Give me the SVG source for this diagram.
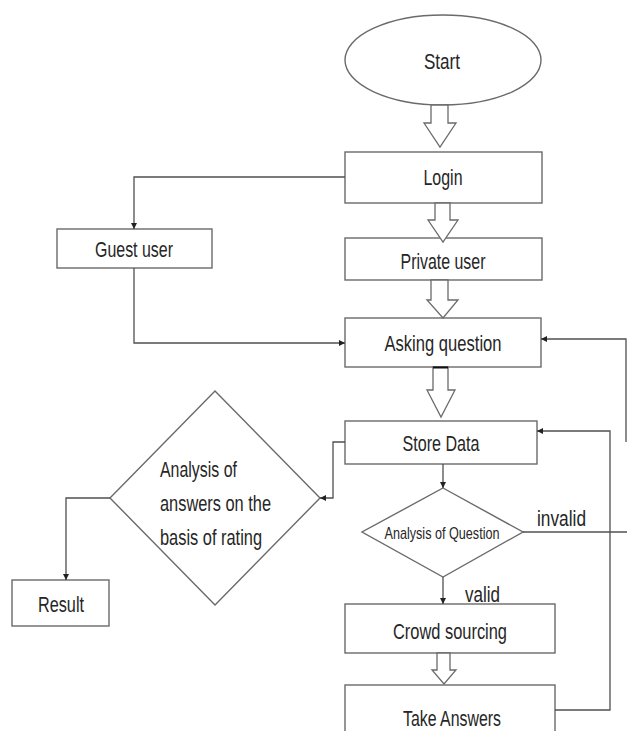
<svg xmlns="http://www.w3.org/2000/svg" width="627" height="731" viewBox="0 0 627 731">
<style>
  .shape { fill: #ffffff; stroke: #6a6a6a; stroke-width: 1.4; }
  .blk { fill: #ffffff; stroke: #6a6a6a; stroke-width: 1.3; stroke-linejoin: miter; }
  .conn { fill: none; stroke: #505050; stroke-width: 1.3; }
  .lbl { font-family: "Liberation Sans", Arial, sans-serif; font-size: 22px; fill: #262626; }
  .sm { font-size: 17px; }
</style>
<defs>
  <marker id="ah" viewBox="0 0 10 10" refX="10" refY="5" markerWidth="6" markerHeight="6" orient="auto" markerUnits="userSpaceOnUse">
    <path d="M0,0 L10,5 L0,10 z" fill="#222"/>
  </marker>
</defs>
<rect width="627" height="731" fill="#ffffff"/>

<g id="start">
  <ellipse class="shape" cx="443" cy="60" rx="98" ry="45"/>
  <text class="lbl" x="442" y="69" text-anchor="middle" textLength="36" lengthAdjust="spacingAndGlyphs">Start</text>
</g>
<g id="login">
  <rect class="shape" x="345" y="152" width="197" height="51"/>
  <text class="lbl" x="443" y="185" text-anchor="middle" textLength="39" lengthAdjust="spacingAndGlyphs">Login</text>
</g>
<g id="guest">
  <rect class="shape" x="57" y="229" width="155" height="39"/>
  <text class="lbl" x="134" y="257" text-anchor="middle" textLength="78" lengthAdjust="spacingAndGlyphs">Guest user</text>
</g>
<g id="private">
  <rect class="shape" x="345" y="238" width="197" height="42"/>
  <text class="lbl" x="443" y="269" text-anchor="middle" textLength="85" lengthAdjust="spacingAndGlyphs">Private user</text>
</g>
<g id="asking">
  <rect class="shape" x="345" y="318" width="196" height="49"/>
  <text class="lbl" x="443" y="351" text-anchor="middle" textLength="117" lengthAdjust="spacingAndGlyphs">Asking question</text>
</g>
<g id="store">
  <rect class="shape" x="345" y="421" width="192" height="43"/>
  <text class="lbl" x="441" y="451" text-anchor="middle" textLength="77" lengthAdjust="spacingAndGlyphs">Store Data</text>
</g>
<g id="analysis-answers">
  <polygon class="shape" points="215,391 320,498 215,605 110,498"/>
  <text class="lbl" x="160" y="477" textLength="77" lengthAdjust="spacingAndGlyphs">Analysis of</text>
  <text class="lbl" x="160" y="511" textLength="111" lengthAdjust="spacingAndGlyphs">answers on the</text>
  <text class="lbl" x="160" y="545" textLength="102" lengthAdjust="spacingAndGlyphs">basis of rating</text>
</g>
<g id="analysis-question">
  <polygon class="shape" points="443,488 523,532 443,577 362,532"/>
  <text class="lbl sm" x="442" y="539" text-anchor="middle" textLength="115" lengthAdjust="spacingAndGlyphs">Analysis of Question</text>
</g>
<g id="result">
  <rect class="shape" x="12" y="580" width="97" height="46"/>
  <text class="lbl" x="61" y="612" text-anchor="middle" textLength="46" lengthAdjust="spacingAndGlyphs">Result</text>
</g>
<g id="crowd">
  <rect class="shape" x="345" y="604" width="210" height="49"/>
  <text class="lbl" x="450" y="639" text-anchor="middle" textLength="114" lengthAdjust="spacingAndGlyphs">Crowd sourcing</text>
</g>
<g id="take">
  <rect class="shape" x="345" y="685" width="210" height="60"/>
  <text class="lbl" x="452" y="726" text-anchor="middle" textLength="98" lengthAdjust="spacingAndGlyphs">Take Answers</text>
</g>

<g id="connectors">
  <path class="blk" d="M431,105 L448,105 L448,123 L456,123 L440,147 L424,123 L431,123 Z"/>
  <path class="blk" d="M435,203 L450,203 L450,220 L458,220 L443,242 L428,220 L435,220 Z"/>
  <path class="blk" d="M431,280 L448,280 L448,300 L458,300 L443,318 L427,300 L431,300 Z"/>
  <path class="blk" d="M433,367 L448,367 L448,390 L455,390 L441,417 L427,390 L433,390 Z"/>
  <path class="blk" d="M437,653 L450,653 L450,670 L456,670 L444,684 L432,670 L437,670 Z"/>
  <line x1="433" y1="367.5" x2="448" y2="367.5" stroke="#111" stroke-width="2"/>
  <path class="conn" d="M345,177 L134,177 L134,229" marker-end="url(#ah)"/>
  <path class="conn" d="M134,268 L134,343 L345,343" marker-end="url(#ah)"/>
  <path class="conn" d="M626,442 L626,339 L541,339" marker-end="url(#ah)"/>
  <path class="conn" d="M345,442 L333,442 L333,498 L320,498" marker-end="url(#ah)"/>
  <path class="conn" d="M110,498 L66,498 L66,580" marker-end="url(#ah)"/>
  <path class="conn" d="M443,464 L443,488" marker-end="url(#ah)"/>
  <path class="conn" d="M443,577 L443,604" marker-end="url(#ah)"/>
  <path class="conn" d="M523,532 L627,532"/>
  <path class="conn" d="M555,710 L610,710 L610,431 L537,431" marker-end="url(#ah)"/>
  <text class="lbl" x="537" y="526" textLength="49" lengthAdjust="spacingAndGlyphs">invalid</text>
  <text class="lbl" x="465" y="602" textLength="35" lengthAdjust="spacingAndGlyphs">valid</text>
</g>
</svg>
